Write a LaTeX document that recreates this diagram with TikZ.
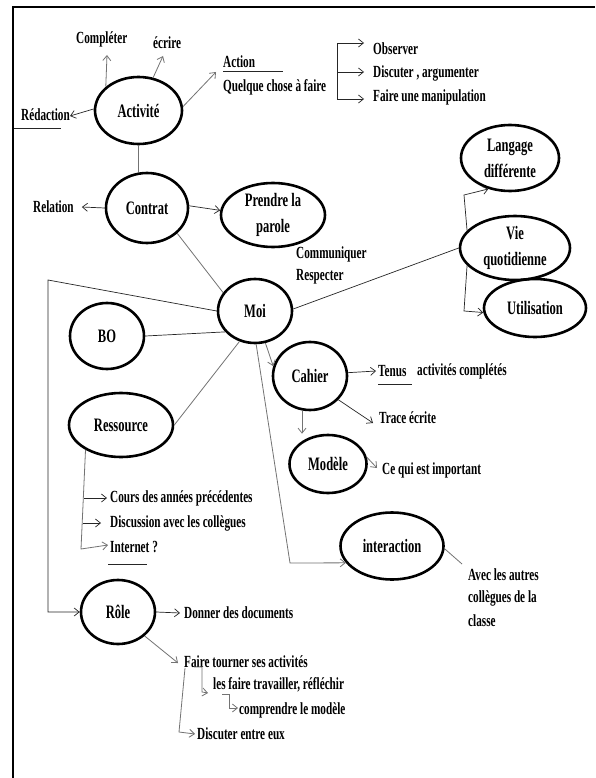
\documentclass[tikz,border=0pt]{standalone}
\usepackage{fontspec}
\setmainfont{Liberation Serif}[FakeStretch=0.66]
\usetikzlibrary{shapes.geometric,arrows.meta}
\begin{document}
\begin{tikzpicture}[x=1pt,y=-1pt,
 bub/.style={draw,ellipse,line width=2.6pt,inner sep=0pt,font=\fontsize{19}{26}\selectfont\bfseries,align=center},
 lab/.style={inner sep=0pt,anchor=west,font=\fontsize{17}{23}\selectfont\bfseries,align=left},
 con/.style={draw=black!85,line width=0.7pt},
 grey/.style={draw=black!55,line width=0.8pt},
 arr/.style={con,-{Straight Barb[length=5pt,width=8pt]}}]
\useasboundingbox (0,0) rectangle (595,778);
\fill[white] (0,0) rectangle (595,778);
\draw[line width=2pt] (13,778) -- (13,7) -- (595,7);

% ellipses
\node[bub,minimum width=87pt,minimum height=67pt] (act) at (138.5,110.5) {Activité};
\node[bub,minimum width=82pt,minimum height=70pt] (con) at (147,208) {Contrat};
\node[bub,minimum width=104pt,minimum height=64pt] (pre) at (273,215) {Prendre la\\parole};
\node[bub,minimum width=74pt,minimum height=64pt] (moi) at (255,311) {Moi};
\node[bub,minimum width=74pt,minimum height=66pt] (bo) at (107,336) {BO};
\node[bub,minimum width=104pt,minimum height=64pt] (res) at (121,425) {Ressource};
\node[bub,minimum width=74pt,minimum height=68pt] (cah) at (310,376) {Cahier};
\node[bub,minimum width=77pt,minimum height=58pt] (mod) at (328,464) {Modèle};
\node[bub,minimum width=103pt,minimum height=67pt] (int) at (392,546) {interaction};
\node[bub,minimum width=74pt,minimum height=64pt] (role) at (118,612) {Rôle};
\node[bub,minimum width=98pt,minimum height=66pt] (lang) at (510,158) {Langage\\différente};
\node[bub,minimum width=110pt,minimum height=64pt] (vie) at (515,248) {Vie\\quotidienne};
\node[bub,minimum width=102pt,minimum height=58pt] (uti) at (535,308) {Utilisation};

% labels
\node[lab] (comp) at (76,39) {Compléter};
\node[lab] (ecr) at (153,43) {écrire};
\node[lab] (action) at (223,62) {Action};
\node[lab] (quel) at (223,87) {Quelque chose à faire};
\node[lab] (red) at (21,115) {Rédaction};
\node[lab] (obs) at (373,49) {Observer};
\node[lab] (disc) at (373,73) {Discuter , argumenter};
\node[lab] (manip) at (373,97) {Faire une manipulation};
\node[lab] (rel) at (33,207) {Relation};
\node[lab] (comm) at (296,254) {Communiquer};
\node[lab] (resp) at (296,277) {Respecter};
\node[lab] (tenus) at (378,371) {Tenus};
\node[lab] (actc) at (417,371) {activités complétés};
\node[lab] (trace) at (379,418) {Trace écrite};
\node[lab] (cequi) at (382,470) {Ce qui est important};
\node[lab] (cours) at (110,498) {Cours des années précédentes};
\node[lab] (discol) at (110,523) {Discussion avec les collègues};
\node[lab] (inter) at (110,547) {Internet ?};
\node[lab] (avec) at (468,575) {Avec les autres};
\node[lab] (coll) at (468,598) {collègues de la};
\node[lab] (classe) at (468,621) {classe};
\node[lab] (donner) at (184,613) {Donner des documents};
\node[lab] (faire) at (184,662) {Faire tourner ses activités};
\node[lab] (lesf) at (213,685) {les faire travailler, réfléchir};
\node[lab] (compr) at (239,710) {comprendre le modèle};
\node[lab] (discut) at (197,734) {Discuter entre eux};

% free-end coordinates
\coordinate (pComp) at (107,55);
\coordinate (pEcr) at (163,56);
\coordinate (pAct) at (216,72);
\coordinate (pRed) at (70,116);
\coordinate (bTop) at (337,43);
\coordinate (bBot) at (337,99);
\coordinate (lTop) at (48,280);
\coordinate (rBot) at (81,549);
\coordinate (iBend) at (290,563);
\coordinate (iEnd) at (462,564);
\coordinate (vTop) at (464,195);
\coordinate (vBot) at (464,311);
\coordinate (f1) at (185,668);
\coordinate (f2) at (179,732);

% underlines
\draw[con] (223,71) -- (283,71);
\draw[con] (14,128) -- (61,128);
\draw[con] (378,384) -- (412,384);
\draw[con] (108,564) -- (147,564);

% Activite
\draw[arr,grey] (act.144) -- (pComp);
\draw[arr,grey] (act.66) -- (pEcr);
\draw[arr,grey] (act.5) -- (pAct);
\draw[arr] (act.178) -- (pRed);
\draw[grey] (act.south) -- (act.south |- con.north);
% bracket Observer etc.
\draw[arr] (bBot) -- (bTop) -- ([xshift=-9pt,yshift=6pt]obs.west);
\draw[arr] (337,72) -- ([xshift=-9pt,yshift=1pt]disc.west);
\draw[arr] (bBot) -- ([xshift=-9pt,yshift=-2pt]manip.west);

% Contrat
\draw[arr] (con.west) -- ([xshift=8pt]rel.east);
\draw[arr] (con.3) -- (pre.175);
\draw[grey] (con.-40) -- (moi.150);

% Moi
\draw[arr] (moi.west) -- (lTop) -- (lTop |- role.west) -- (role.west);
\draw[con] (bo.east) -- (moi.215);
\draw[grey] (res.east) -- (moi.243);
\draw[arr,grey] (moi.-72) -- (cah.165);
\draw[arr,grey] (moi.-88) -- (iBend) -- (int.200);
\draw[grey] (int.-3) -- (iEnd);
\draw[con] (moi.3) -- (vie.west);

% Vie quotidienne bracket
\draw[arr] (vie.160) -- (vTop) -- (lang.235);
\draw[arr] (vie.200) -- (vBot) -- (uti.185);

% Cahier
\draw[arr] (cah.5) -- ([xshift=-2pt]tenus.west);
\draw[arr] (cah.-40) -- ([xshift=-6pt,yshift=-5pt]trace.west);
\draw[arr,grey] (cah.-103) -- (cah.-103 |- mod.north);
\draw[arr,grey] (mod.10) -- ([xshift=-5pt,yshift=2pt]cequi.west);

% Ressource bracket
\draw[arr,grey] (res.215) -- (rBot) -- ([xshift=-2pt,yshift=2pt]inter.west);
\draw[arr] (84,0 |- cours.west) -- ([xshift=-3pt]cours.west);
\draw[arr] (83,0 |- discol.west) -- ([xshift=-9pt]discol.west);

% Role
\draw[arr] (role.east) -- ([xshift=-4pt]donner.west);
\draw[arr,grey] (role.-42) -- ([xshift=-6pt,yshift=-1pt]faire.west);
\draw[arr,grey] (f1) -- (f2) -- ([xshift=-2pt]discut.west);
\draw[arr,grey] (194,667) -- (202,667) -- (202,692) -- ([xshift=-5pt,yshift=-8pt]lesf.west);
\draw[arr,grey] (222,694) -- (229,694) -- (229,708) -- ([xshift=-1pt,yshift=2pt]compr.west);
\end{tikzpicture}
\end{document}
